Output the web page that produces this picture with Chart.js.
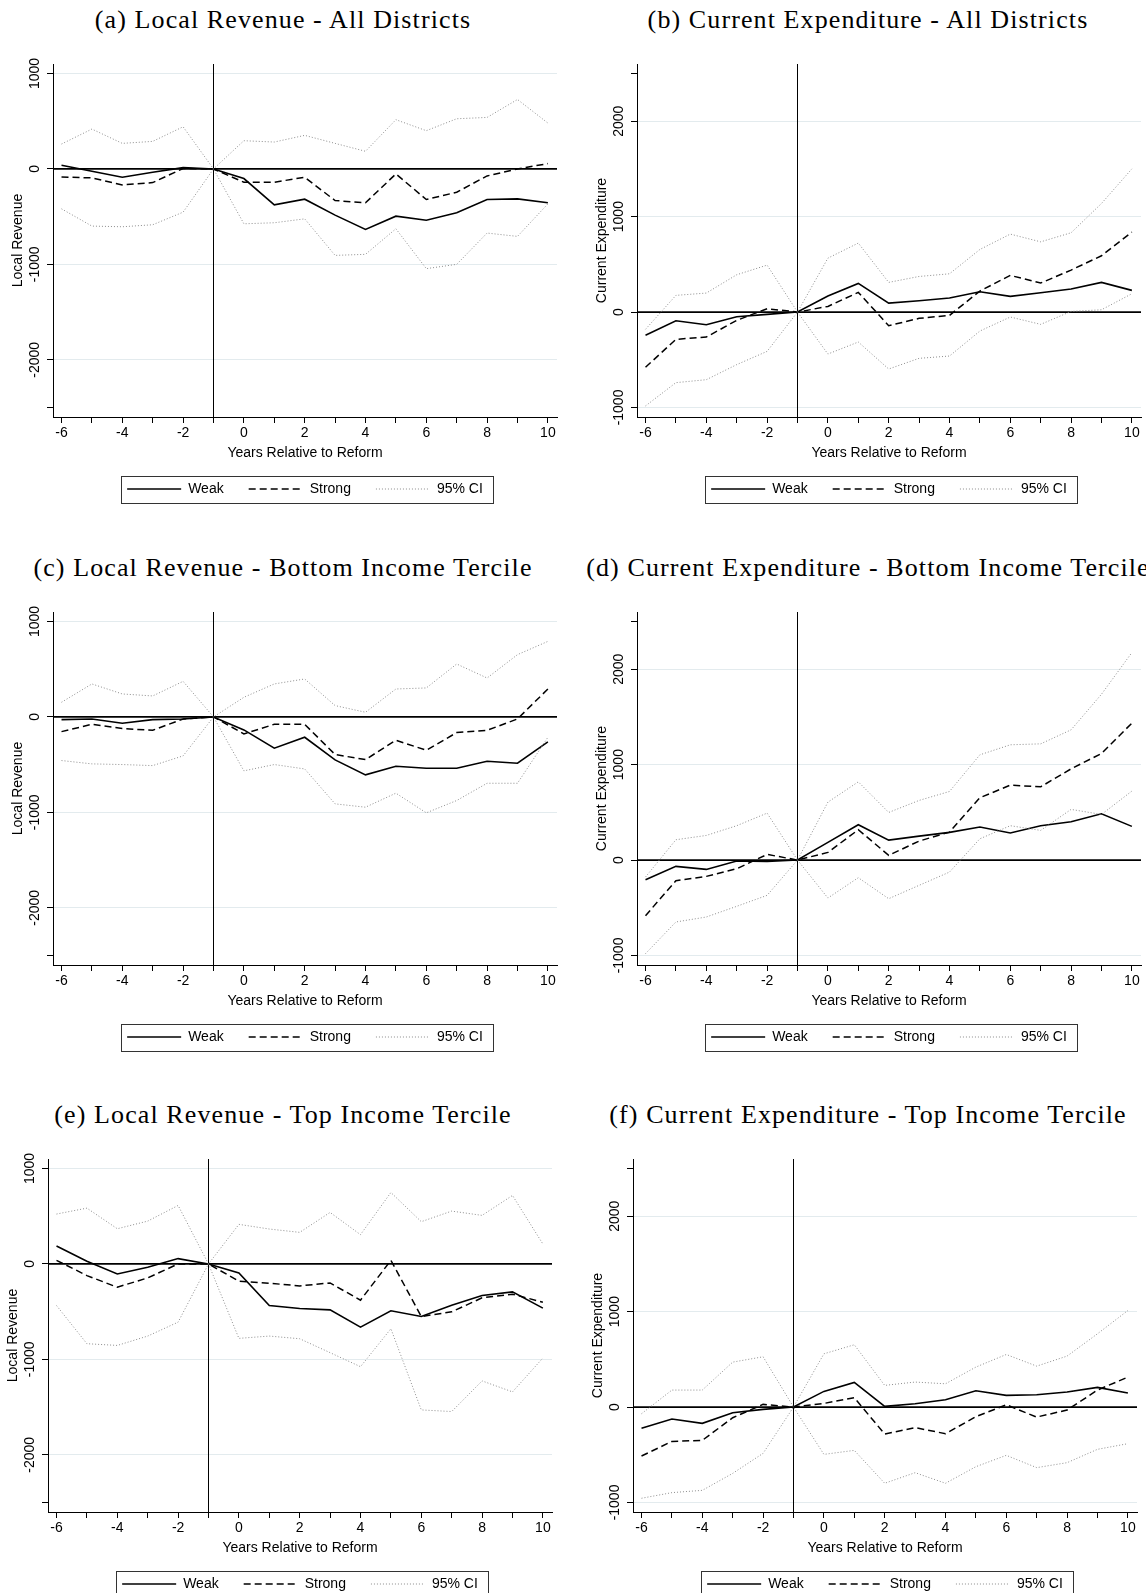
<!DOCTYPE html>
<html>
<head>
<meta charset="utf-8">
<script src="https://cdn.jsdelivr.net/npm/chart.js@4.4.1/dist/chart.umd.min.js"></script>
<style>
  html, body { margin: 0; padding: 0; background: #fff; width: 1146px; height: 1593px; overflow: hidden; }
  canvas { position: absolute; }
  .title { position: absolute; font-family: "Liberation Serif", serif; font-size: 26px; letter-spacing: 1.1px;
           line-height: 30px; white-space: nowrap; color: #000; transform: translateX(-50%); }
</style>
</head>
<body>
<script>
// event time (years relative to reform)
const years = [-6, -5, -4, -3, -2, -1, 0, 1, 2, 3, 4, 5, 6, 7, 8, 9, 10];
const reformYear = -1;

// (a) local revenue, all districts
const weakA   = [38, -24, -87, -35, 14, 0, -101, -376, -317, -484, -634, -495, -537, -460, -320, -314, -355];
const strongA = [-84, -94, -167, -143, 5, 0, -139, -139, -87, -331, -355, -52, -320, -244, -73, 0, 56];
const ciHiA   = [261, 418, 268, 289, 442, 0, 296, 282, 352, 268, 185, 516, 401, 526, 540, 728, 481];
const ciLoA   = [-418, -599, -606, -585, -453, 0, -575, -564, -523, -906, -895, -627, -1045, -1000, -672, -707, -366];

// (b) current expenditure, all districts
const weakB   = [-244, -91, -133, -49, -24, 0, 168, 300, 94, 119, 147, 213, 164, 202, 241, 311, 227];
const strongB = [-579, -286, -262, -87, 35, 0, 59, 206, -143, -66, -35, 220, 384, 304, 440, 590, 838];
const ciHiB   = [-181, 175, 199, 391, 492, 0, 565, 723, 311, 373, 401, 656, 817, 736, 831, 1138, 1501];
const ciLoB   = [-984, -740, -709, -551, -412, 0, -440, -314, -597, -485, -461, -199, -52, -129, 7, 24, 192];

// (c) local revenue, bottom income tercile
const weakC   = [-28, -21, -66, -28, -21, 0, -136, -328, -213, -450, -607, -517, -538, -538, -464, -485, -262];
const strongC = [-154, -77, -122, -140, -21, 0, -178, -77, -77, -394, -447, -244, -349, -164, -140, -21, 293];
const ciHiC   = [154, 346, 241, 220, 373, 0, 206, 346, 398, 119, 49, 293, 304, 555, 408, 653, 792];
const ciLoC   = [-457, -492, -499, -510, -408, 0, -565, -499, -545, -911, -946, -799, -1005, -876, -695, -695, -213];

// (d) current expenditure, bottom income tercile
const weakD   = [-206, -66, -98, -10, -14, 0, 185, 370, 209, 251, 290, 346, 283, 360, 401, 485, 353];
const strongD = [-583, -216, -171, -91, 59, 0, 80, 318, 49, 199, 293, 653, 785, 768, 956, 1117, 1435];
const ciHiD   = [-178, 213, 258, 360, 492, 0, 607, 820, 499, 625, 719, 1103, 1208, 1218, 1365, 1738, 2175];
const ciLoD   = [-981, -649, -597, -485, -370, 0, -398, -185, -405, -265, -126, 223, 360, 311, 531, 478, 723];

// (e) local revenue, top income tercile
const weakE   = [188, 28, -105, -35, 56, 0, -94, -436, -467, -481, -662, -491, -551, -432, -331, -293, -463];
const strongE = [38, -122, -244, -146, 0, 0, -181, -202, -230, -199, -380, 38, -551, -502, -355, -317, -401];
const ciHiE   = [523, 585, 369, 449, 613, 0, 415, 366, 331, 540, 307, 749, 443, 554, 509, 718, 209];
const ciLoE   = [-436, -836, -854, -756, -610, 0, -780, -756, -784, -930, -1077, -679, -1530, -1547, -1226, -1341, -986];

// (f) current expenditure, top income tercile
const weakF   = [-223, -126, -171, -59, -24, 0, 164, 258, 7, 35, 77, 171, 122, 129, 157, 206, 147];
const strongF = [-513, -360, -349, -112, 28, 0, 38, 98, -283, -216, -279, -101, 24, -105, -31, 178, 314];
const ciHiF   = [-70, 178, 178, 471, 527, 0, 558, 653, 227, 262, 244, 419, 551, 429, 534, 768, 1012];
const ciLoF   = [-956, -897, -873, -695, -485, 0, -496, -454, -799, -688, -799, -625, -506, -635, -583, -443, -384];

// axis ticks
const revTicks = [-2500, -2000, -1000, 0, 1000];
const expTicks = [-1000, 0, 1000, 2000, 2500];
const legendLabels = ["Weak", "Strong", "95% CI"];

Chart.defaults.font.family = "'Liberation Sans', Arial, sans-serif";
Chart.defaults.font.size = 14;
Chart.defaults.color = "#000";

const panels = [
  { title: "(a) Local Revenue - All Districts", ylab: "Local Revenue", kind: "rev",
    weak: weakA, strong: strongA, hi: ciHiA, lo: ciLoA, left: 0, top: 0, tx: 283 },
  { title: "(b) Current Expenditure - All Districts", ylab: "Current Expenditure", kind: "exp",
    weak: weakB, strong: strongB, hi: ciHiB, lo: ciLoB, left: 584, top: 0, tx: 868 },
  { title: "(c) Local Revenue - Bottom Income Tercile", ylab: "Local Revenue", kind: "rev",
    weak: weakC, strong: strongC, hi: ciHiC, lo: ciLoC, left: 0, top: 548, tx: 283 },
  { title: "(d) Current Expenditure - Bottom Income Tercile", ylab: "Current Expenditure", kind: "exp",
    weak: weakD, strong: strongD, hi: ciHiD, lo: ciLoD, left: 584, top: 548, tx: 868 },
  { title: "(e) Local Revenue - Top Income Tercile", ylab: "Local Revenue", kind: "rev",
    weak: weakE, strong: strongE, hi: ciHiE, lo: ciLoE, left: -5, top: 1095, tx: 283 },
  { title: "(f) Current Expenditure - Top Income Tercile", ylab: "Current Expenditure", kind: "exp",
    weak: weakF, strong: strongF, hi: ciHiF, lo: ciLoF, left: 580, top: 1095, tx: 868 },
];

// reference lines, legend placement and legend frame
const stataBits = {
  id: "stataBits",
  afterLayout(chart) {
    const lg = chart.legend, ca = chart.chartArea;
    const shift = (ca.left + ca.right) / 2 - (lg.left + lg.right) / 2;
    lg.left += shift; lg.right += shift;
    const top = ca.bottom + 72 - 25 - 7;
    lg.top = top; lg.bottom = top + 60; lg.height = 60;
  },
  beforeDatasetsDraw(chart) {
    const {ctx, chartArea: ca, scales} = chart;
    const x = scales.x.getPixelForValue(reformYear);
    const y = scales.y.getPixelForValue(0);
    ctx.save();
    ctx.strokeStyle = "#000";
    ctx.lineWidth = 1;
    ctx.beginPath(); ctx.moveTo(x, ca.top); ctx.lineTo(x, ca.bottom); ctx.stroke();
    ctx.lineWidth = 1.8;
    ctx.beginPath(); ctx.moveTo(ca.left, y); ctx.lineTo(ca.right, y); ctx.stroke();
    ctx.restore();
  },
  afterDraw(chart) {
    const lg = chart.legend, ctx = chart.ctx;
    const pad = lg.options.labels.padding;
    const span = lg.lineWidths[0] - pad;
    const cx = (lg.left + lg.right) / 2;
    const cy = lg.top + pad + 7;
    ctx.save();
    ctx.strokeStyle = "#333";
    ctx.lineWidth = 1;
    ctx.strokeRect(Math.round(cx - span / 2 - 6) + 0.5, Math.round(cy - 13.5) + 0.5, Math.round(span + 16), 27);
    ctx.restore();
  }
};

const lineStyles = [
  { width: 1.6, dash: [], color: "#000" },
  { width: 1.5, dash: [7, 4], color: "#000" },
  { width: 1, dash: [1, 2], color: "#8c8c8c" },
];

panels.forEach((p) => {
  const t = document.createElement("div");
  t.className = "title";
  t.textContent = p.title;
  t.style.left = p.tx + "px";
  t.style.top = (5 + p.top) + "px";
  document.body.appendChild(t);

  const cv = document.createElement("canvas");
  cv.width = 570; cv.height = 500;
  cv.style.left = p.left + "px";
  cv.style.top = (40 + p.top) + "px";
  document.body.appendChild(cv);

  const pts = (vals) => years.map((x, i) => ({ x: x, y: vals[i] }));
  const ds = (vals, st, label) => ({
    label: label, data: pts(vals), borderColor: st.color, borderWidth: st.width,
    borderDash: st.dash, pointRadius: 0, tension: 0, fill: false
  });
  const isRev = p.kind === "rev";
  const yTicks = isRev ? revTicks : expTicks;

  new Chart(cv, {
    type: "line",
    data: {
      datasets: [
        ds(p.hi, lineStyles[2], "95% CI"),
        ds(p.lo, lineStyles[2], "95% CI"),
        ds(p.strong, lineStyles[1], "Strong"),
        ds(p.weak, lineStyles[0], "Weak"),
      ]
    },
    options: {
      responsive: false,
      animation: false,
      devicePixelRatio: 1,
      layout: { padding: { top: 24, left: 0, right: 13, bottom: 74 } },
      plugins: {
        tooltip: { enabled: false },
        legend: {
          position: "bottom",
          maxHeight: 1,
          labels: {
            usePointStyle: true,
            pointStyleWidth: 54,
            padding: 25,
            font: { size: 14 },
            color: "#000",
            generateLabels: () => legendLabels.map((txt, i) => ({
              text: txt, pointStyle: "line", strokeStyle: lineStyles[i].color,
              fillStyle: lineStyles[i].color, lineWidth: lineStyles[i].width,
              lineDash: lineStyles[i].dash, hidden: false
            }))
          }
        }
      },
      scales: {
        x: {
          type: "linear", min: -6.28, max: 10.3,
          afterBuildTicks: (s) => { s.ticks = years.map((v) => ({ value: v })); },
          afterFit: (s) => { s.height = 48; },
          ticks: { autoSkip: false, maxRotation: 0, padding: 2,
                   callback: (v) => (v % 2 === 0 ? String(v) : "") },
          grid: { drawOnChartArea: false, tickLength: 6, tickColor: "#000" },
          border: { color: "#000", width: 1 },
          title: { display: true, text: "Years Relative to Reform", font: { size: 14 },
                   padding: { top: 0, bottom: 3 } }
        },
        y: {
          min: isRev ? -2600 : -1100, max: isRev ? 1100 : 2600,
          afterBuildTicks: (s) => { s.ticks = yTicks.map((v) => ({ value: v })); },
          afterFit: (s) => { s.width = 53; },
          ticks: { autoSkip: false, minRotation: 90, maxRotation: 90, crossAlign: "center", padding: -6.4,
                   callback: (v) => (Math.abs(v) === 2500 ? "" : String(v)) },
          grid: {
            color: (c) => (c.tick && (Math.abs(c.tick.value) === 2500) ? "rgba(0,0,0,0)" : "#e3ebee"),
            tickLength: 6, tickColor: "#000", lineWidth: 1
          },
          border: { color: "#000", width: 1 },
          title: { display: true, text: p.ylab, font: { size: 14 }, padding: { top: 9.4, bottom: 0 } }
        }
      }
    },
    plugins: [stataBits]
  });
});
</script>
</body>
</html>
